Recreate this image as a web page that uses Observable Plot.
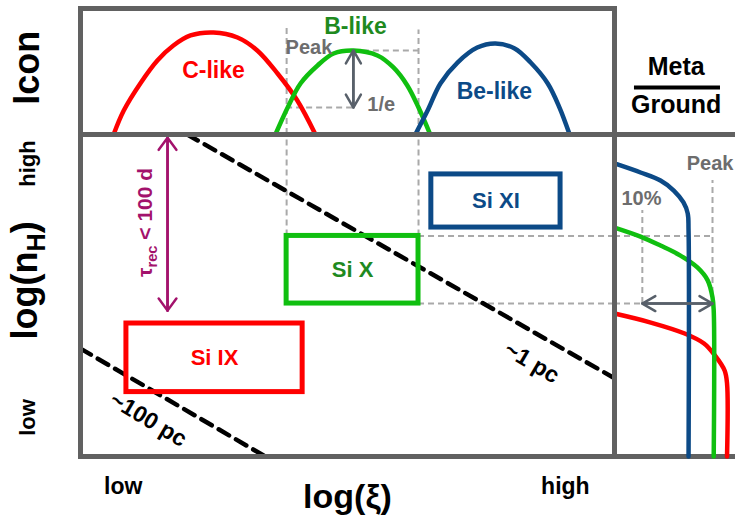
<!DOCTYPE html>
<html>
<head>
<meta charset="utf-8">
<script src="https://cdn.jsdelivr.net/npm/d3@7"></script>
<script src="https://cdn.jsdelivr.net/npm/@observablehq/plot@0.6"></script>
<style>
  html, body { margin: 0; padding: 0; background: #fff; }
  #chart { position: relative; width: 735px; height: 519px; }
  #chart svg { position: absolute; left: 0; top: 0; }
</style>
</head>
<body>
<div id="chart"></div>
<script>
// Ion fraction along log(ξ) for the three charge states: [log ξ, fraction]
const cLike  = [[0.62, 0], [0.81, 0.19], [1.12, 0.405], [1.44, 0.587], [1.74, 0.706], [2.06, 0.786], [2.49, 0.81], [2.94, 0.77], [3.31, 0.667], [3.69, 0.484], [4.06, 0.27], [4.40, 0]];
const bLike  = [[3.65, 0], [3.88, 0.214], [4.12, 0.405], [4.44, 0.548], [4.74, 0.643], [5.11, 0.667], [5.56, 0.627], [5.86, 0.532], [6.12, 0.389], [6.33, 0.214], [6.55, 0]];
const beLike = [[6.27, 0], [6.50, 0.19], [6.74, 0.405], [7.06, 0.571], [7.43, 0.69], [7.77, 0.722], [8.13, 0.683], [8.43, 0.571], [8.75, 0.405], [8.97, 0.214], [9.16, 0]];
const sequences = ["C-like", "B-like", "Be-like"];

// Metastable / ground population ratio against log(n_H): [ratio, log nH]
const metaBe = [[0, 9.10], [0.215, 8.82], [0.38, 8.57], [0.49, 8.26], [0.57, 7.89], [0.605, 7.55], [0.612, 7.02], [0.612, 0]];
const metaB  = [[0, 7.11], [0.215, 6.83], [0.38, 6.55], [0.545, 6.24], [0.685, 5.87], [0.77, 5.47], [0.81, 4.94], [0.82, 4.53], [0.82, 0]];
const metaC  = [[0, 4.44], [0.30, 4.16], [0.58, 3.82], [0.74, 3.51], [0.83, 3.14], [0.91, 2.67], [0.93, 2.27], [0.93, 0]];

// Regions in the (log ξ, log n_H) plane where each ion is diagnosed
const zoneIons = ["Si IX", "Si X", "Si XI"];
const zoneXi   = [[0.86, 4.16], [3.86, 6.33], [6.57, 8.99]];
const zoneNH   = [[2.0, 4.13], [4.75, 6.85], [7.11, 8.76]];

// Lines of constant distance: [log ξ, log nH]
const distLabels = ["~1 pc", "~100 pc"];
const dist1pc   = [[2.0, 10], [10, 2.43]];
const dist100pc = [[0, 3.35], [3.46, 0]];

// B-like peak, its 1/e level and where the curve crosses it
const bPeakXi = 5.11, bPeakFrac = 0.667, bEFrac = 0.214;
const bEXi = [3.86, 6.33];
// Meta/ground ratio at 10% and at the peak of the B-like curve
const ratio10 = 0.23, ratioPeak = 0.81;
// Recombination-time limit (τrec < 100 d) in log nH
const recXi = 1.63, recNH = [9.9, 4.53];

const axisTicks = ["low", "high"];
const guideLabels = ["Peak", "1/e", "10%"];

// ---------------------------------------------------------------------------
const W = 735, H = 519;
const font = "Liberation Sans, Arial, Helvetica, sans-serif";
const frameGray = "#616161", guideGray = "#a9a9a9", labelGray = "#6d6d6d", arrowGray = "#58606a";
const red = "#ff0000", green = "#10bf10", darkGreen = "#1f8a1f", blue = "#0c4a87", purple = "#a3126c";
const seqLine = [red, green, blue];
const seqText = [red, darkGreen, blue];

const guide = {stroke: guideGray, strokeWidth: 2, strokeDasharray: "6,4"};
const bold = {fontFamily: font, fontWeight: "bold"};
const clear = {background: "transparent", overflow: "visible"};
const zones = zoneIons.map((ion, i) => ({ion, i, x1: zoneXi[i][0], x2: zoneXi[i][1], y1: zoneNH[i][0], y2: zoneNH[i][1]}));

function twoWay(x1, y1, x2, y2, opts) {
  return [
    Plot.arrow([0], {x1, y1, x2, y2, ...opts}),
    Plot.arrow([0], {x1: x2, y1: y2, x2: x1, y2: y1, ...opts})
  ];
}

// Top panel: ion fractions
const iconPlot = Plot.plot({
  width: W, height: H, marginLeft: 80, marginRight: 121, marginTop: 8, marginBottom: 385,
  x: {domain: [0, 10], axis: null}, y: {domain: [0, 1], axis: null},
  style: clear,
  marks: [
    Plot.ruleX([bEXi[0]], {y1: 0, y2: 0.86, ...guide}),
    Plot.ruleX([bEXi[1]], {y1: 0, y2: 0.83, ...guide}),
    Plot.ruleY([bPeakFrac], {x1: bPeakXi, x2: bEXi[1], ...guide}),
    Plot.ruleY([bEFrac], {x1: bEXi[0], x2: bPeakXi, ...guide}),
    ...[cLike, bLike, beLike].map((d, i) =>
      Plot.line(d, {curve: "catmull-rom", stroke: seqLine[i], strokeWidth: 4.5})),
    ...twoWay(bPeakXi, bEFrac, bPeakXi, bPeakFrac, {stroke: arrowGray, strokeWidth: 2.5, headLength: 9, headAngle: 60}),
    Plot.text([sequences[0]], {x: 2.49, y: 0.51, text: d => d, fill: seqText[0], fontSize: 23, ...bold}),
    Plot.text([sequences[1]], {x: 5.15, y: 0.857, text: d => d, fill: seqText[1], fontSize: 23, ...bold}),
    Plot.text([sequences[2]], {x: 7.75, y: 0.341, text: d => d, fill: seqText[2], fontSize: 23, ...bold}),
    Plot.text([guideLabels[0]], {x: 3.84, y: 0.687, text: d => d, textAnchor: "start", fill: labelGray, fontSize: 20, ...bold}),
    Plot.text([guideLabels[1]], {x: 5.37, y: 0.234, text: d => d, textAnchor: "start", fill: labelGray, fontSize: 20, ...bold}),
    Plot.text(["Icon"], {x: -0.99, y: 0.53, text: d => d, rotate: -90, fill: "#000", fontSize: 36, ...bold}),
    Plot.frame({stroke: frameGray, strokeWidth: 5})
  ]
});

// Main panel: log(ξ) vs log(n_H)
const mainPlot = Plot.plot({
  width: W, height: H, marginLeft: 80, marginRight: 121, marginTop: 134, marginBottom: 63,
  x: {domain: [0, 10], axis: null}, y: {domain: [0, 10], axis: null},
  style: clear,
  marks: [
    Plot.ruleX(bEXi, {y1: zoneNH[1][1], y2: 10, ...guide}),
    Plot.ruleY([zoneNH[1][1], zoneNH[1][0]], {x1: bEXi[1], x2: 10, ...guide}),
    Plot.line(dist1pc, {stroke: "#000", strokeWidth: 4.5, strokeDasharray: "12,8"}),
    Plot.line(dist100pc, {stroke: "#000", strokeWidth: 4.5, strokeDasharray: "12,8"}),
    Plot.rect(zones, {x1: "x1", x2: "x2", y1: "y1", y2: "y2", fill: "none", stroke: d => seqLine[d.i], strokeWidth: 5}),
    Plot.text(zones, {x: d => (d.x1 + d.x2) / 2, y: d => (d.y1 + d.y2) / 2, text: "ion", fill: d => seqText[d.i], fontSize: 22, ...bold}),
    ...twoWay(recXi, recNH[1], recXi, recNH[0], {stroke: purple, strokeWidth: 2.5, headLength: 9, headAngle: 72}),
    Plot.text(["τ_{rec} < 100 d"], {x: 1.22, y: 7.27, text: d => d, rotate: -90, fill: purple, fontSize: 21, ...bold}),
    Plot.text([distLabels[0]], {x: 8.45, y: 2.92, text: d => d, rotate: 31, fill: "#000", fontSize: 23, ...bold}),
    Plot.text([distLabels[1]], {x: 1.27, y: 1.15, text: d => d, rotate: 31, fill: "#000", fontSize: 23, ...bold}),
    Plot.text([axisTicks[1]], {x: -0.99, y: 9.10, text: d => d, rotate: -90, fill: "#000", fontSize: 22, ...bold}),
    Plot.text([axisTicks[0]], {x: -0.99, y: 1.21, text: d => d, rotate: -90, fill: "#000", fontSize: 22, ...bold}),
    Plot.text(["log(n_{H})"], {x: -1.03, y: 5.47, text: d => d, rotate: -90, fill: "#000", fontSize: 36, ...bold}),
    Plot.text([axisTicks[0]], {x: 0.8, y: -0.93, text: d => d, fill: "#000", fontSize: 23, ...bold}),
    Plot.text([axisTicks[1]], {x: 9.08, y: -0.93, text: d => d, fill: "#000", fontSize: 23, ...bold}),
    Plot.text(["log(ξ)"], {x: 5.0, y: -1.27, text: d => d, fill: "#000", fontSize: 34, ...bold}),
    Plot.frame({stroke: frameGray, strokeWidth: 5})
  ]
});

// Right panel: metastable / ground ratio vs log(n_H)
const metaPlot = Plot.plot({
  width: W, height: H, marginLeft: 614, marginRight: 0, marginTop: 134, marginBottom: 63,
  x: {domain: [0, 1], axis: null}, y: {domain: [0, 10], axis: null},
  style: clear,
  marks: [
    Plot.ruleY([zoneNH[1][1]], {x1: 0, x2: ratioPeak, ...guide}),
    Plot.ruleY([zoneNH[1][0]], {x1: 0, x2: ratio10, ...guide}),
    Plot.ruleX([ratio10], {y1: zoneNH[1][0], y2: 7.64, ...guide}),
    Plot.ruleX([ratioPeak], {y1: zoneNH[1][0], y2: 8.57, ...guide}),
    Plot.ruleY([0, 10], {stroke: frameGray, strokeWidth: 5}),
    ...[metaC, metaB, metaBe].map((d, i) =>
      Plot.line(d, {curve: "catmull-rom", stroke: seqLine[i], strokeWidth: 4.5})),
    ...twoWay(ratio10, zoneNH[1][0], ratioPeak, zoneNH[1][0], {stroke: arrowGray, strokeWidth: 2.5, headLength: 9, headAngle: 60}),
    Plot.ruleX([0], {stroke: frameGray, strokeWidth: 5}),
    Plot.text([guideLabels[0]], {x: 0.79, y: 9.10, text: d => d, fill: labelGray, fontSize: 20, ...bold}),
    Plot.text([guideLabels[2]], {x: 0.223, y: 8.01, text: d => d, fill: labelGray, fontSize: 20, ...bold}),
    Plot.text(["Meta"], {x: 0.51, y: 12.10, text: d => d, fill: "#000", fontSize: 25, ...bold}),
    Plot.ruleY([11.46], {x1: 0.165, x2: 0.876, stroke: "#000", strokeWidth: 4}),
    Plot.text(["Ground"], {x: 0.51, y: 10.93, text: d => d, fill: "#000", fontSize: 25, ...bold})
  ]
});

const chart = document.getElementById("chart");
for (const p of [iconPlot, mainPlot, metaPlot]) chart.appendChild(p);

// Turn "_{...}" runs in labels into subscripts
chart.querySelectorAll("text").forEach(t => {
  const s = t.textContent;
  if (!s.includes("_{")) return;
  t.textContent = "";
  let shifted = false;
  for (const part of s.split(/(_\{[^}]*\})/)) {
    if (!part) continue;
    const ts = document.createElementNS("http://www.w3.org/2000/svg", "tspan");
    if (part.startsWith("_{")) {
      ts.textContent = part.slice(2, -1);
      ts.setAttribute("font-size", "70%");
      ts.setAttribute("dy", "0.3em");
      shifted = true;
    } else {
      ts.textContent = part;
      if (shifted) { ts.setAttribute("dy", "-0.21em"); shifted = false; }
    }
    t.appendChild(ts);
  }
});
</script>
</body>
</html>
